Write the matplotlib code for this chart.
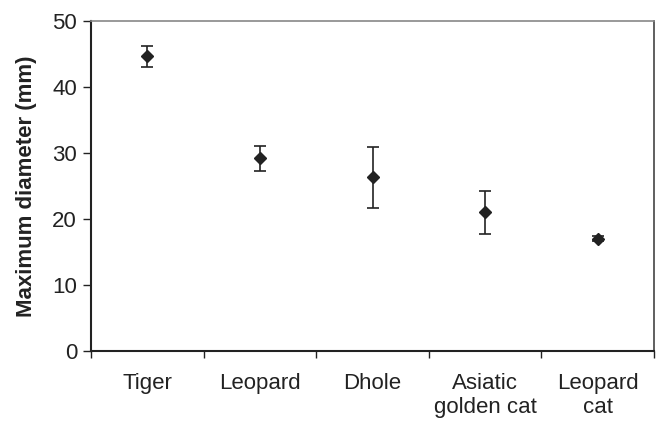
import matplotlib
matplotlib.use("Agg")
import matplotlib.pyplot as plt

plt.rcParams['font.family'] = ['Liberation Sans', 'DejaVu Sans']

categories = ["Tiger", "Leopard", "Dhole", "Asiatic\ngolden cat", "Leopard\ncat"]
means = [44.6, 29.2, 26.3, 21.0, 17.0]
errors = [1.55, 1.9, 4.65, 3.25, 0.4]
yticks = [0, 10, 20, 30, 40, 50]

fig = plt.figure(figsize=(6.57, 4.25), dpi=100)
ax = fig.add_axes([0.1385, 0.1741, 0.857, 0.777])

x = list(range(len(categories)))
ax.errorbar(x, means, yerr=errors, fmt='D', color='#222222', ecolor='#222222',
            markersize=6, elinewidth=1.2, capsize=4, capthick=1.2)

ax.set_xlim(-0.5, len(categories) - 0.5)
ax.set_ylim(0, 50)
ax.set_yticks(yticks)
ax.set_yticklabels([str(v) for v in yticks], fontsize=16, color='#222222')
ax.set_xticks([i - 0.5 for i in range(len(categories) + 1)])
ax.set_xticklabels([])
ax.set_xticks(x, minor=True)
ax.set_xticklabels(categories, minor=True, fontsize=16, color='#222222')
ax.tick_params(axis='x', which='minor', length=0, pad=16)
ax.tick_params(axis='x', which='major', direction='out', length=5, width=1, color='#222222')
ax.tick_params(axis='y', direction='out', length=6, width=1, color='#222222', pad=4)

ax.set_ylabel("Maximum diameter (mm)", fontsize=16, fontweight='bold', color='#222222', labelpad=11)

ax.spines['left'].set_color('#222222')
ax.spines['left'].set_linewidth(1.5)
ax.spines['bottom'].set_color('#222222')
ax.spines['bottom'].set_linewidth(1.5)
ax.spines['top'].set_color('#888888')
ax.spines['top'].set_linewidth(1.2)
ax.spines['right'].set_color('#444444')
ax.spines['right'].set_linewidth(1.2)

fig.savefig("out.png", dpi=100)
